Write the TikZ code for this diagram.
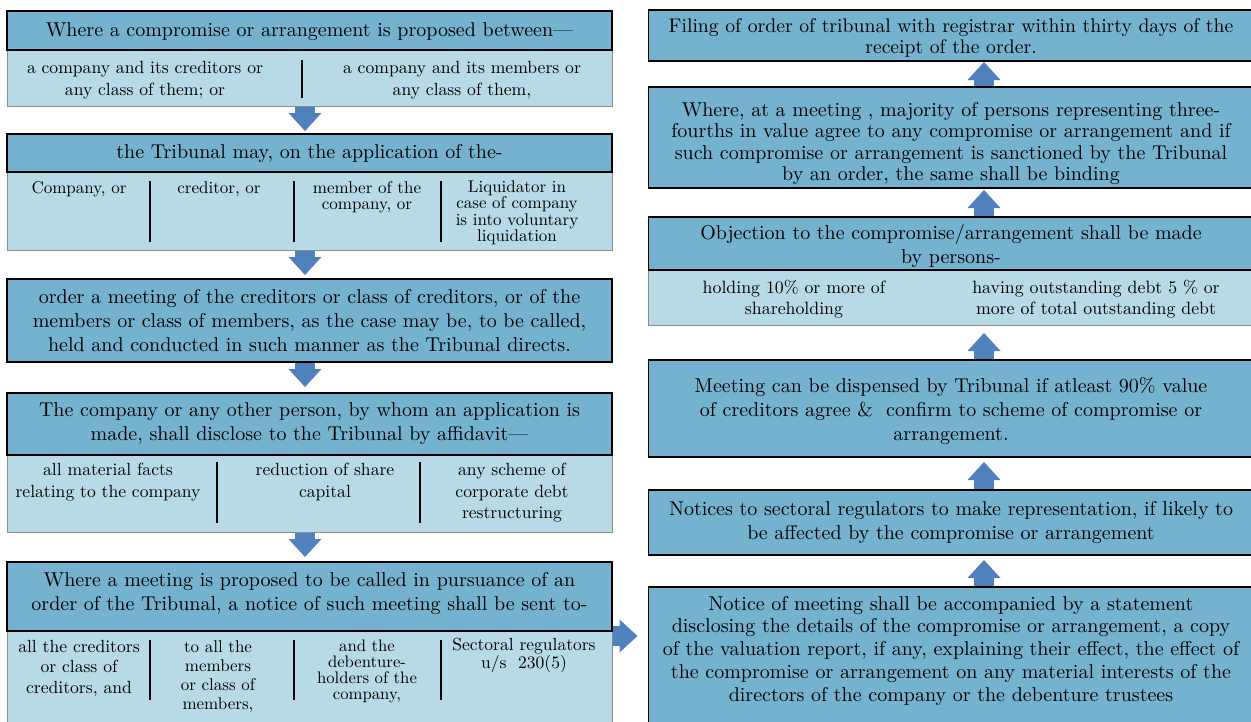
\documentclass[tikz,border=0pt]{standalone}
\usepackage{fontspec}
\setmainfont{lmroman10-regular.otf}[BoldFont=lmroman10-bold.otf,
  ItalicFont=lmroman10-italic.otf]
\usetikzlibrary{arrows.meta, positioning, calc}
\definecolor{headblue}{RGB}{116,178,207}
\definecolor{subblue}{RGB}{184,217,230}
\definecolor{arrowblue}{RGB}{79,129,189}
\newcommand\csfont[2]{\fontsize{#1}{#2}\selectfont}
\tikzset{
  cs head/.style={
    rectangle, draw=black, line width=1.2pt, fill=headblue,
    minimum width=605pt, align=center, inner sep=0pt, outer sep=0pt,
    font=\csfont{20}{24}
  },
  cs sub/.style={
    rectangle, draw=black!45, line width=0.9pt, fill=subblue,
    minimum width=605pt, inner sep=0pt, outer sep=0pt
  },
  cs col/.style={
    anchor=north, align=center, inner sep=0pt,
    font=\csfont{17.6}{21.5}
  },
  cs rule/.style={
    line width=1.4pt, draw=black
  },
  cs arrow/.style={
    draw=arrowblue, line width=20pt, shorten <=0.7pt,
    -{Triangle[width=33pt, length=18pt, line width=0pt]}
  }
}

\begin{document}
\begin{tikzpicture}[x=1pt, y=-1pt]
  \useasboundingbox (0,0) rectangle (1251,721);
  \coordinate (lx) at (305,0);
  \coordinate (rx) at (984,0);

  % left column, top to bottom
  \node (l1sub) [cs sub, minimum height=56pt] at (309.5,78) {};
  \node (l1hdr) [cs head, minimum height=39pt, text height=17pt,
    above=0pt of l1sub]
    {Where a compromise or arrangement is proposed between—};
  \node (l1a) [cs col, font=\csfont{17.6}{22}] at (145,61)
    {a company and its creditors or\\any class of them; or};
  \node (l1b) [cs col, font=\csfont{17.6}{22}] at (462,61)
    {a company and its members or\\any class of them,};
  \draw [cs rule] (302,60) -- (302,98);

  \node (l2sub) [cs sub, minimum height=78pt] at (309.5,211) {};
  \node (l2hdr) [cs head, minimum height=38pt, above=0pt of l2sub]
    {the Tribunal may, on the application of the-};
  \node (l2a) [cs col, font=\csfont{17}{16.5}] at (79,181) {Company, or};
  \node (l2b) [cs col, font=\csfont{17}{16.5}] at (219,181) {creditor, or};
  \node (l2c) [cs col, font=\csfont{17}{16.5}] at (367,181)
    {member of the\\company, or};
  \node (l2d) [cs col, font=\csfont{17}{16.5}] at (517,180)
    {Liquidator in\\case of company\\is into voluntary\\liquidation};
  \draw [cs rule] (150,181) -- (150,242) (294,181) -- (294,242)
    (441,181) -- (441,242);

  \node (l3) [cs head, minimum height=83pt] at (309.5,320.5)
    {order a meeting of the creditors or class of creditors, or of the\\
     members or class of members, as the case may be, to be called,\\
     held and conducted in such manner as the Tribunal directs.};

  \node (l4sub) [cs sub, minimum height=77pt] at (309.5,493.5) {};
  \node (l4hdr) [cs head, minimum height=62pt, above=0pt of l4sub]
    {The company or any other person, by whom an application is\\
     made, shall disclose to the Tribunal by affidavit—};
  \node (l4a) [cs col] at (108,463)
    {all material facts\\relating to the company};
  \node (l4b) [cs col] at (325,463) {reduction of share\\capital};
  \node (l4c) [cs col] at (512,463)
    {any scheme of\\corporate debt\\restructuring};
  \draw [cs rule] (217,462) -- (217,523) (420,462) -- (420,523);

  \node (l5sub) [cs sub, minimum height=99pt] at (309.5,680.5) {};
  \node (l5hdr) [cs head, minimum height=69pt, text depth=10pt,
    above=0pt of l5sub]
    {Where a meeting is proposed to be called in pursuance of an\\
     order of the Tribunal, a notice of such meeting shall be sent to-};
  \node (l5a) [cs col, font=\csfont{17.6}{20.5}] at (79,640)
    {all the creditors\\or class of\\creditors, and};
  \node (l5b) [cs col, font=\csfont{17}{19}] at (218,640)
    {to all the\\members\\or class of\\members,};
  \node (l5c) [cs col, font=\csfont{16.7}{16}] at (367,640)
    {and the\\debenture-\\holders of the\\company,};
  \node (l5d) [cs col, font=\csfont{17.5}{16.5}] at (524,638)
    {Sectoral regulators\\u/s \ 230(5)};
  \draw [cs rule] (150,640) -- (150,700) (294,640) -- (294,700)
    (441,640) -- (441,700);

  % right column, bottom to top
  \node (r6) [cs head, minimum height=143pt, text depth=20pt,
    font=\csfont{20}{22.75}] at (951,658.5)
    {Notice of meeting shall be accompanied by a statement\\
     disclosing the details of the compromise or arrangement, a copy\\
     of the valuation report, if any, explaining their effect, the effect of\\
     the compromise or arrangement on any material interests of the\\
     directors of the company or the debenture trustees};
  \node (r5) [cs head, minimum height=65pt] at (951,522.5)
    {Notices to sectoral regulators to make representation, if likely to\\
     be affected by the compromise or arrangement};
  \node (r4) [cs head, minimum height=97pt, text height=68pt] at (951,408.5)
    {Meeting can be dispensed by Tribunal if atleast 90\% value\\
     of creditors agree \& \ confirm to scheme of compromise or\\
     arrangement.};
  \node (r3sub) [cs sub, minimum height=55pt] at (951,297.5) {};
  \node (r3hdr) [cs head, minimum height=53pt, text height=44pt,
    above=0pt of r3sub]
    {Objection to the compromise/arrangement shall be made\\by persons-};
  \node (r3a) [cs col, font=\csfont{17.8}{21}] at (794,280)
    {holding 10\% or more of\\shareholding};
  \node (r3b) [cs col, font=\csfont{17.8}{21}] at (1096,280)
    {having outstanding debt 5 \% or\\more of total outstanding debt};
  \node (r2) [cs head, minimum height=101pt, text height=90pt,
    font=\csfont{20}{21.3}] at (951,137.5)
    {Where, at a meeting , majority of persons representing three-\\
     fourths in value agree to any compromise or arrangement and if\\
     such compromise or arrangement is sanctioned by the Tribunal\\
     by an order, the same shall be binding};
  \node (r1) [cs head, minimum height=51pt, text height=40pt,
    font=\csfont{19.7}{21}] at (951,35.5)
    {Filing of order of tribunal with registrar within thirty days of the\\
     receipt of the order.};

  % block arrows
  \draw [cs arrow, shorten >=3pt] (l1sub.south -| lx) -- (l2hdr.north -| lx);
  \draw [cs arrow, shorten >=4pt] (l2sub.south -| lx) -- (l3.north -| lx);
  \draw [cs arrow, shorten >=6pt] (l3.south -| lx) -- (l4hdr.north -| lx);
  \draw [cs arrow, shorten >=5pt] (l4sub.south -| lx) -- (l5hdr.north -| lx);
  \draw [cs arrow, shorten >=11pt] ([yshift=-5pt]l5sub.north east)
    -- ([yshift=-5pt]l5sub.north east -| r6.west);
  \draw [cs arrow, shorten >=5pt] (r6.north -| rx) -- (r5.south -| rx);
  \draw [cs arrow, shorten >=5pt] (r5.north -| rx) -- (r4.south -| rx);
  \draw [cs arrow, shorten >=8pt] (r4.north -| rx) -- (r3sub.south -| rx);
  \draw [cs arrow, shorten >=2pt] (r3hdr.north -| rx) -- (r2.south -| rx);
  \draw [cs arrow, shorten >=1pt] (r2.north -| rx) -- (r1.south -| rx);
\end{tikzpicture}
\end{document}
